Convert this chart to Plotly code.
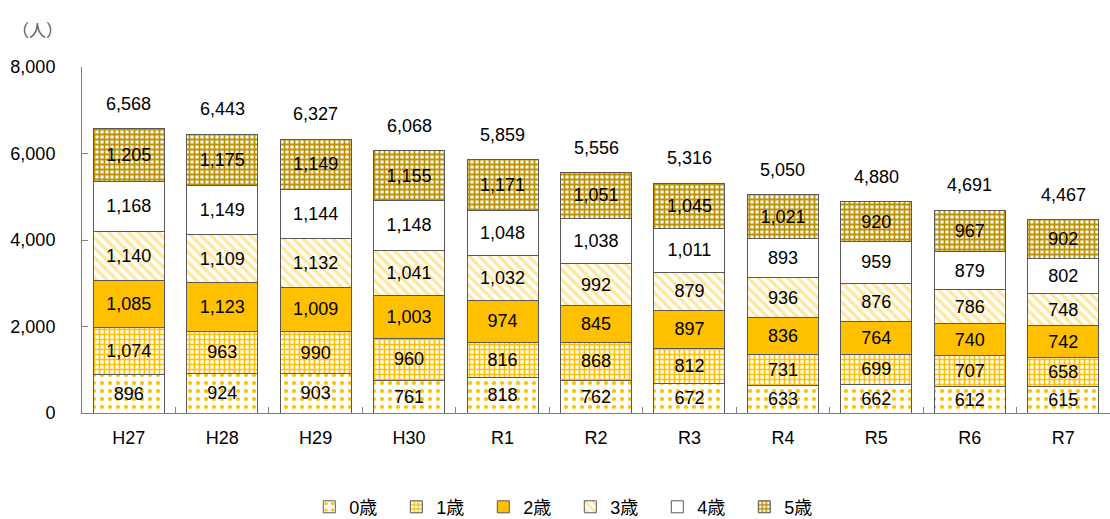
import plotly.graph_objects as go

years = ['H27', 'H28', 'H29', 'H30', 'R1', 'R2', 'R3', 'R4', 'R5', 'R6', 'R7']

age0 = [896, 924, 903, 761, 818, 762, 672, 633, 662, 612, 615]
age1 = [1074, 963, 990, 960, 816, 868, 812, 731, 699, 707, 658]
age2 = [1085, 1123, 1009, 1003, 974, 845, 897, 836, 764, 740, 742]
age3 = [1140, 1109, 1132, 1041, 1032, 992, 879, 936, 876, 786, 748]
age4 = [1168, 1149, 1144, 1148, 1048, 1038, 1011, 893, 959, 879, 802]
age5 = [1205, 1175, 1149, 1155, 1171, 1051, 1045, 1021, 920, 967, 902]
totals = [6568, 6443, 6327, 6068, 5859, 5556, 5316, 5050, 4880, 4691, 4467]

series_names = ['0歳', '1歳', '2歳', '3歳', '4歳', '5歳']

FONT = 'Liberation Sans, Arial, Noto Sans CJK JP'

# (pattern shape, fg, bg, size, solidity)
styles = [
    ('.', '#FFC000', '#FFFFFF', 8, 0.22),
    ('+', '#FFC000', '#FFFFFF', 5, 0.55),
    ('', '#FFC000', '#FFC000', 8, 0.3),
    ('\\', '#FFE699', '#FFFFFF', 7, 0.45),
    ('', '#FFFFFF', '#FFFFFF', 8, 0.3),
    ('+', '#BF9000', '#FFFFFF', 5, 0.6),
]

fig = go.Figure()
for name, vals, (shape, fg, bg, size, sol) in zip(series_names, [age0, age1, age2, age3, age4, age5], styles):
    fig.add_trace(go.Bar(
        x=years, y=vals, name=name,
        marker=dict(color=bg, line=dict(color='#595959', width=1),
                    pattern=dict(shape=shape, fgcolor=fg, bgcolor=bg, size=size, solidity=sol,
                                 fillmode='replace' if shape else 'overlay')),
        text=[f'{v:,}' for v in vals],
        textposition='inside', insidetextanchor='middle', textangle=0,
        textfont=dict(color='#000000', size=18, family=FONT),
        hoverinfo='skip',
    ))

for yr, t in zip(years, totals):
    fig.add_annotation(x=yr, y=t, text=f'{t:,}', showarrow=False, yshift=25,
                       font=dict(size=18, color='#000000', family=FONT))

fig.add_annotation(xref='paper', yref='paper', x=-0.07, y=1.0, yshift=47, xanchor='left',
                   text='（人）', showarrow=False, font=dict(size=17, color='#595959', family=FONT))

fig.update_layout(
    barmode='stack', bargap=0.24,
    width=1110, height=519,
    margin=dict(l=82, r=0, t=67, b=106, autoexpand=False),
    paper_bgcolor='#FFFFFF', plot_bgcolor='#FFFFFF',
    font=dict(family=FONT, size=18, color='#000000'),
    uniformtext=dict(minsize=16, mode='show'),
    legend=dict(orientation='h', x=0.475, xanchor='center', y=-0.272, yanchor='middle',
                font=dict(size=18, family=FONT), itemwidth=30, traceorder='normal',
                entrywidth=42, entrywidthmode='pixels'),
    showlegend=True,
)
fig.update_xaxes(showline=True, linecolor='#808080', ticks='inside', tickson='boundaries',
                 ticklen=6, tickcolor='#808080', showgrid=False, tickfont=dict(size=18),
                 ticklabelstandoff=8)
fig.update_yaxes(range=[0, 8000], dtick=2000, tickformat=',', showline=True, linecolor='#808080',
                 ticks='inside', ticklen=6, tickcolor='#808080', showgrid=False, zeroline=False,
                 tickfont=dict(size=18), ticklabelstandoff=22)

fig.write_html('out.html', config={'displayModeBar': False},
               post_script="document.body.style.margin='0';")
